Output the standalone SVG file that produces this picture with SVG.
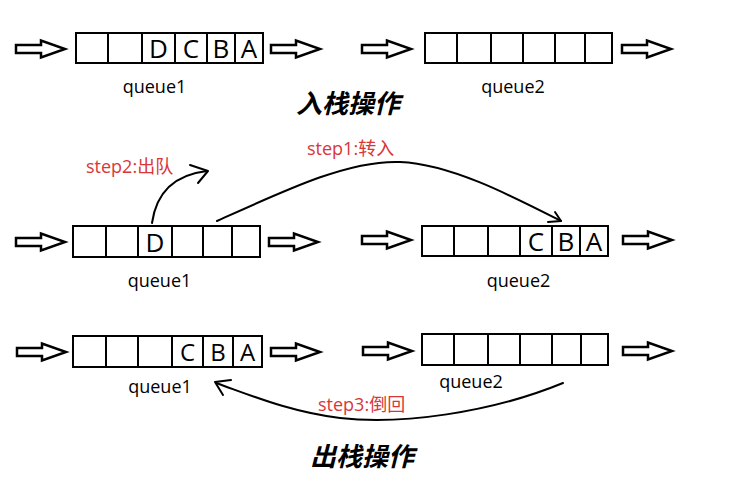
<svg xmlns="http://www.w3.org/2000/svg" xmlns:xlink="http://www.w3.org/1999/xlink" width="732" height="493" viewBox="0 0 732 493">
<style>
.box{fill:#fff;stroke:#000;stroke-width:2}
.div{stroke:#000;stroke-width:2}
.ar{fill:#fff;stroke:#000;stroke-width:2.5;stroke-linejoin:miter}
.lt{font-family:"Open Sans","Noto Sans",sans-serif;font-size:26px;fill:#000;text-anchor:middle}
.lt2{font-family:"Open Sans","Noto Sans",sans-serif;font-size:24px;fill:#000;text-anchor:middle}
.ql{font-family:"Open Sans","Noto Sans",sans-serif;font-size:18px;fill:#000;text-anchor:middle}
.st{font-family:"Open Sans","Noto Sans CJK SC",sans-serif;font-size:18px;fill:#d9363a}
.tt{font-family:"Noto Sans CJK SC",sans-serif;font-size:26px;font-weight:bold;font-style:italic;fill:#000}
.cv{fill:none;stroke:#000;stroke-width:2;stroke-linecap:round;stroke-linejoin:round}
</style>
<defs>
<path id="arr" class="ar" d="M0,-4 H25 V-8.5 L49,0 L25,8.5 V4 H0 Z"/>
</defs>
<rect width="732" height="493" fill="#fff"/>

<g id="push-queue1">
<use xlink:href="#arr" x="16" y="49"/>
<rect class="box" x="76" y="33" width="187" height="30"/>
<path class="div" d="M108,33V63M142,33V63M175,33V63M207,33V63M235,33V63"/>
<text class="lt" x="158.5" y="58">D</text>
<text class="lt" x="191" y="58">C</text>
<text class="lt" x="221" y="58">B</text>
<text class="lt" x="249" y="58">A</text>
<use xlink:href="#arr" x="271" y="49"/>
<text class="ql" x="154.5" y="93">queue1</text>
</g>

<g id="push-queue2">
<use xlink:href="#arr" x="362" y="49"/>
<rect class="box" x="425" y="33" width="187" height="30"/>
<path class="div" d="M457,33V63M491,33V63M523,33V63M555,33V63M585,33V63"/>
<use xlink:href="#arr" x="622" y="49"/>
<text class="ql" x="513" y="93">queue2</text>
</g>

<text id="title-push" class="tt" x="296" y="113">入栈操作</text>

<g id="mid-queue1">
<use xlink:href="#arr" x="16" y="242"/>
<rect class="box" x="73" y="226" width="187" height="31"/>
<path class="div" d="M106,226V257M138,226V257M172,226V257M203,226V257M232,226V257"/>
<text class="lt" x="155" y="252">D</text>
<use xlink:href="#arr" x="269" y="242"/>
<text class="ql" x="159.5" y="287">queue1</text>
</g>

<g id="mid-queue2">
<use xlink:href="#arr" x="362" y="240"/>
<rect class="box" x="422" y="226" width="186" height="30"/>
<path class="div" d="M454,226V256M488,226V256M520,226V256M552,226V256M580,226V256"/>
<text class="lt" x="536" y="251">C</text>
<text class="lt" x="566" y="251">B</text>
<text class="lt" x="594" y="251">A</text>
<use xlink:href="#arr" x="623" y="240"/>
<text class="ql" x="518.5" y="287">queue2</text>
</g>

<g id="pop-queue1">
<use xlink:href="#arr" x="17" y="352"/>
<rect class="box" x="73" y="336" width="189" height="31"/>
<path class="div" d="M106,336V367M138,336V367M172,336V367M203,336V367M233,336V367"/>
<text class="lt2" x="187.5" y="361">C</text>
<text class="lt2" x="218" y="361">B</text>
<text class="lt2" x="247.5" y="361">A</text>
<use xlink:href="#arr" x="271" y="352"/>
<text class="ql" x="160" y="393">queue1</text>
</g>

<g id="pop-queue2">
<use xlink:href="#arr" x="363" y="351"/>
<rect class="box" x="422" y="334" width="186" height="31"/>
<path class="div" d="M454,334V365M488,334V365M520,334V365M552,334V365M581,334V365"/>
<use xlink:href="#arr" x="623" y="351"/>
<text class="ql" x="471" y="388">queue2</text>
</g>

<text id="title-pop" class="tt" x="310" y="466">出栈操作</text>

<g id="connectors">
<path class="cv" d="M152,223 C156,195 172,175 207,171"/>
<path class="cv" d="M190,165 L208,171 L198,183"/>
<path class="cv" d="M217,221 C290,188 350,160 400,162 C450,164 510,195 561,221"/>
<path class="cv" d="M555,212 L561,221 L548,222"/>
<path class="cv" d="M563,383 C490,413 400,425 340,418 C290,412 250,395 216,383"/>
<path class="cv" d="M231,380 L215,382 L223,395"/>
</g>

<text id="label-step2" class="st" x="86" y="173">step2:出队</text>
<text id="label-step1" class="st" x="307" y="155">step1:转入</text>
<text id="label-step3" class="st" x="318" y="411">step3:倒回</text>
</svg>
